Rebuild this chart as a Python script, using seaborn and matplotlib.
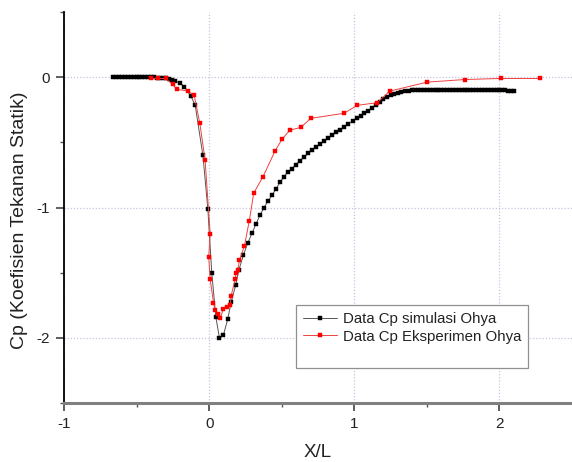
import numpy as np
import pandas as pd
import seaborn as sns
import matplotlib
matplotlib.use("Agg")
import matplotlib.pyplot as plt
from matplotlib.lines import Line2D
from matplotlib.ticker import FixedLocator

# Simulated pressure coefficient along the body (X/L, Cp)
sim_x = [-0.66, -0.64, -0.62, -0.60, -0.58, -0.56, -0.54, -0.52, -0.50, -0.48,
         -0.46, -0.44, -0.42, -0.40, -0.38, -0.36, -0.34, -0.32, -0.30, -0.28,
         -0.255, -0.234, -0.20, -0.17, -0.126, -0.096, -0.043, -0.009, 0.018, 0.046,
         0.071, 0.098, 0.128, 0.152, 0.183, 0.205, 0.236, 0.265, 0.296, 0.323,
         0.35, 0.378, 0.408, 0.435, 0.46, 0.488, 0.513, 0.54, 0.568, 0.595,
         0.625, 0.653, 0.682, 0.71, 0.738, 0.765, 0.793, 0.82, 0.848, 0.876,
         0.904, 0.932, 0.96, 0.99, 1.017, 1.044, 1.07, 1.095, 1.12, 1.15,
         1.175, 1.20, 1.225, 1.25, 1.275, 1.30, 1.325, 1.35, 1.375, 1.40,
         1.42, 1.44, 1.46, 1.48, 1.50, 1.52, 1.54, 1.56, 1.58, 1.60,
         1.62, 1.64, 1.66, 1.68, 1.70, 1.72, 1.74, 1.76, 1.78, 1.80,
         1.82, 1.84, 1.86, 1.88, 1.90, 1.92, 1.94, 1.96, 1.98, 2.00,
         2.02, 2.04, 2.06, 2.08, 2.10]
sim_cp = [0.0, 0.0, 0.0, 0.0, 0.0, 0.0, 0.0, 0.0, 0.0, 0.0,
          0.0, 0.0, -0.001, -0.001, -0.002, -0.003, -0.004, -0.006, -0.008, -0.012,
          -0.02, -0.03, -0.045, -0.074, -0.145, -0.216, -0.60, -1.01, -1.50, -1.84,
          -2.0, -1.98, -1.857, -1.725, -1.595, -1.478, -1.366, -1.275, -1.196, -1.125,
          -1.06, -1.0, -0.947, -0.903, -0.858, -0.807, -0.768, -0.73, -0.705, -0.674,
          -0.641, -0.616, -0.585, -0.56, -0.535, -0.512, -0.49, -0.468, -0.446, -0.424,
          -0.402, -0.38, -0.358, -0.336, -0.316, -0.296, -0.278, -0.26, -0.238, -0.212,
          -0.19, -0.17, -0.154, -0.14, -0.128, -0.119, -0.113, -0.108, -0.104, -0.101,
          -0.100, -0.100, -0.100, -0.100, -0.099, -0.099, -0.099, -0.098, -0.098, -0.098,
          -0.097, -0.097, -0.097, -0.097, -0.097, -0.097, -0.097, -0.097, -0.097, -0.097,
          -0.097, -0.097, -0.097, -0.097, -0.098, -0.099, -0.099, -0.100, -0.100, -0.101,
          -0.102, -0.102, -0.103, -0.104, -0.105]

# Measured pressure coefficient (Ohya experiment)
exp_x = [-0.40, -0.35, -0.30, -0.252, -0.222, -0.149, -0.103, -0.064, -0.028, 0.007,
         -0.003, 0.007, 0.030, 0.041, 0.060, 0.076, 0.098, 0.126, 0.144, 0.151,
         0.179, 0.186, 0.197, 0.209, 0.243, 0.277, 0.307, 0.371, 0.454, 0.502,
         0.556, 0.632, 0.70, 0.93, 1.02, 1.158, 1.244, 1.503, 1.763, 2.01, 2.28]
exp_cp = [-0.01, -0.01, -0.01, -0.056, -0.094, -0.105, -0.14, -0.355, -0.635, -1.20,
          -1.38, -1.55, -1.73, -1.79, -1.82, -1.85, -1.78, -1.765, -1.748, -1.68,
          -1.55, -1.50, -1.48, -1.405, -1.295, -1.10, -0.89, -0.763, -0.567, -0.476,
          -0.407, -0.385, -0.316, -0.277, -0.216, -0.196, -0.107, -0.038, -0.018, -0.01, -0.01]

sim_label = "Data Cp simulasi Ohya"
exp_label = "Data Cp Eksperimen Ohya"

sim_df = pd.DataFrame({"X/L": sim_x, "Cp": sim_cp})
exp_df = pd.DataFrame({"X/L": exp_x, "Cp": exp_cp})

sns.set_style("white")
plt.rcParams["font.family"] = ["Liberation Sans", "DejaVu Sans"]
plt.rcParams["axes.unicode_minus"] = False

fig = plt.figure(figsize=(5.72, 4.62), dpi=100)
ax = fig.add_axes([64 / 572, 1 - 403 / 462, 508 / 572, 391 / 462])

sns.lineplot(data=sim_df, x="X/L", y="Cp", ax=ax, estimator=None, sort=False,
             color="#555555", linewidth=0.7, marker="s", markersize=3.2,
             markerfacecolor="black", markeredgecolor="black", markeredgewidth=0.3,
             label=sim_label, zorder=3)
sns.lineplot(data=exp_df, x="X/L", y="Cp", ax=ax, estimator=None, sort=False,
             color="#f04040", linewidth=0.7, marker="s", markersize=3.1,
             markerfacecolor="#ff0000", markeredgecolor="#ff0000", markeredgewidth=0.3,
             label=exp_label, zorder=4)

ax.set_xlim(-1, 2.5)
ax.set_ylim(-2.5, 0.5)
ax.xaxis.set_major_locator(FixedLocator([-1, 0, 1, 2]))
ax.xaxis.set_minor_locator(FixedLocator([-0.5, 0.5, 1.5]))
ax.yaxis.set_major_locator(FixedLocator([-2, -1, 0]))
ax.yaxis.set_minor_locator(FixedLocator([-2.5, -1.5, -0.5, 0.5]))
ax.set_xticklabels(["-1", "0", "1", "2"])
ax.set_yticklabels(["-2", "-1", "0"])

ax.grid(True, which="major", color="#c4c6e0", linestyle=(0, (1, 1.5)), linewidth=0.9)
ax.set_axisbelow(True)

for side in ("top", "right"):
    ax.spines[side].set_visible(False)
ax.spines["left"].set_color("black")
ax.spines["left"].set_linewidth(1.3)
ax.spines["bottom"].set_color("#808080")
ax.spines["bottom"].set_linewidth(2.2)

ax.tick_params(axis="both", which="major", direction="out", length=6, width=1.1,
               color="#333333", labelsize=11, labelcolor="#222222", pad=4,
               bottom=True, left=True)
ax.tick_params(axis="both", which="minor", direction="out", length=3, width=1.0,
               color="#555555", bottom=True, left=True)

ax.set_xlabel("X/L", fontsize=13.5, color="#222222")
ax.set_ylabel("Cp (Koefisien Tekanan Statik)", fontsize=14, color="#222222")
ax.xaxis.set_label_coords(0.5, -0.104)
ax.yaxis.set_label_coords(-0.07, 0.468)

handles, labels = ax.get_legend_handles_labels()
blank = Line2D([], [], linestyle="none", label=" ")
leg = ax.legend(handles=handles + [blank], labels=labels + [" "],
                loc="lower left", bbox_to_anchor=(0.457, 0.0895), borderaxespad=0,
                fontsize=10.8, frameon=True, fancybox=False, shadow=False,
                edgecolor="#909090", framealpha=1, handlelength=2.3,
                handletextpad=0.35, borderpad=0.45, labelspacing=0.25)
leg.get_frame().set_linewidth(0.9)
for t in leg.get_texts():
    t.set_color("#222222")

fig.savefig("out.png", dpi=100)
